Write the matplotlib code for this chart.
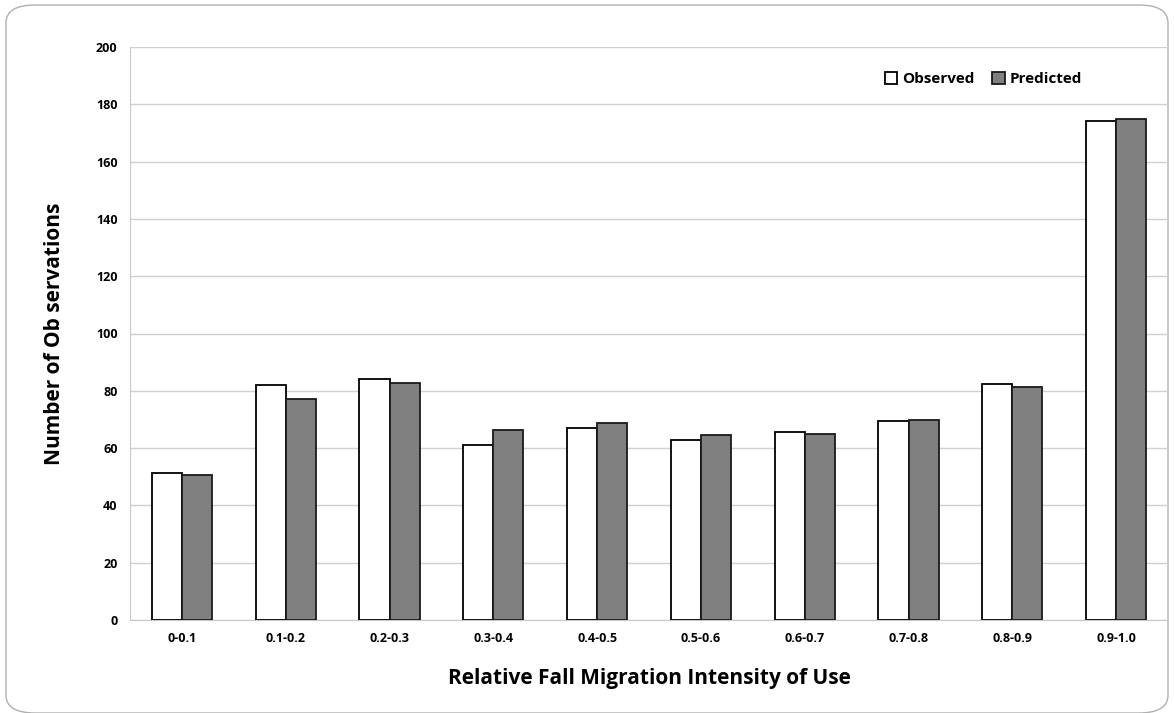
import matplotlib
matplotlib.use("Agg")
import matplotlib.pyplot as plt
import numpy as np
from matplotlib.patches import FancyBboxPatch

categories = ["0-0.1", "0.1-0.2", "0.2-0.3", "0.3-0.4", "0.4-0.5",
              "0.5-0.6", "0.6-0.7", "0.7-0.8", "0.8-0.9", "0.9-1.0"]
observed = [51.4, 82.1, 84.0, 61.0, 67.1, 62.7, 65.7, 69.5, 82.5, 174.3]
predicted = [50.6, 77.1, 82.8, 66.3, 68.9, 64.5, 64.9, 69.8, 81.3, 174.7]
yticks = [0, 20, 40, 60, 80, 100, 120, 140, 160, 180, 200]

plt.rcParams['font.family'] = ['Open Sans', 'DejaVu Sans']

fig = plt.figure(figsize=(11.74, 7.13), dpi=100)
fig.patches.append(FancyBboxPatch((6/1174, 0.0), 1 - 12/1174, 1 - 5/713,
                                  boxstyle="round,pad=0,rounding_size=0.025",
                                  transform=fig.transFigure, facecolor="white",
                                  edgecolor="#b0b0b0", linewidth=1.0, zorder=-10))
ax = fig.add_axes([130/1174, 1-620/713, 1038/1174, 573/713])
ax.set_facecolor("none")

x = np.arange(len(categories))
w = 0.29
ax.bar(x - w/2, observed, w, color="white", edgecolor="black", linewidth=1.3, label="Observed", zorder=3)
ax.bar(x + w/2, predicted, w, color="#808080", edgecolor="#1a1a1a", linewidth=1.3, label="Predicted", zorder=3)

ax.set_xlim(-0.5, len(categories) - 0.5)
ax.set_ylim(0, 200)
ax.set_yticks(yticks)
ax.set_yticklabels([str(t) for t in yticks], fontsize=9, fontweight="bold")
ax.set_xticks(x)
ax.set_xticklabels(categories, fontsize=9, fontweight="bold")
ax.tick_params(axis="both", length=0, pad=9)
ax.grid(axis="y", color="#d0d0d0", linewidth=1.0, zorder=0)
for s in ["top", "right"]:
    ax.spines[s].set_visible(False)
ax.spines["left"].set_color("#c8c8c8")
ax.spines["bottom"].set_color("#c8c8c8")

ax.set_ylabel("Number of Ob servations", fontsize=15, fontweight="bold", labelpad=22)
ax.set_xlabel("Relative Fall Migration Intensity of Use", fontsize=15, fontweight="bold", labelpad=16)

leg = ax.legend(loc="upper right", bbox_to_anchor=(0.93, 0.98), ncol=2, frameon=False,
                prop={"weight": "bold", "size": 11}, handlelength=0.8, handleheight=0.8,
                handletextpad=0.3, columnspacing=1.2)

fig.savefig("out.png", dpi=100)
